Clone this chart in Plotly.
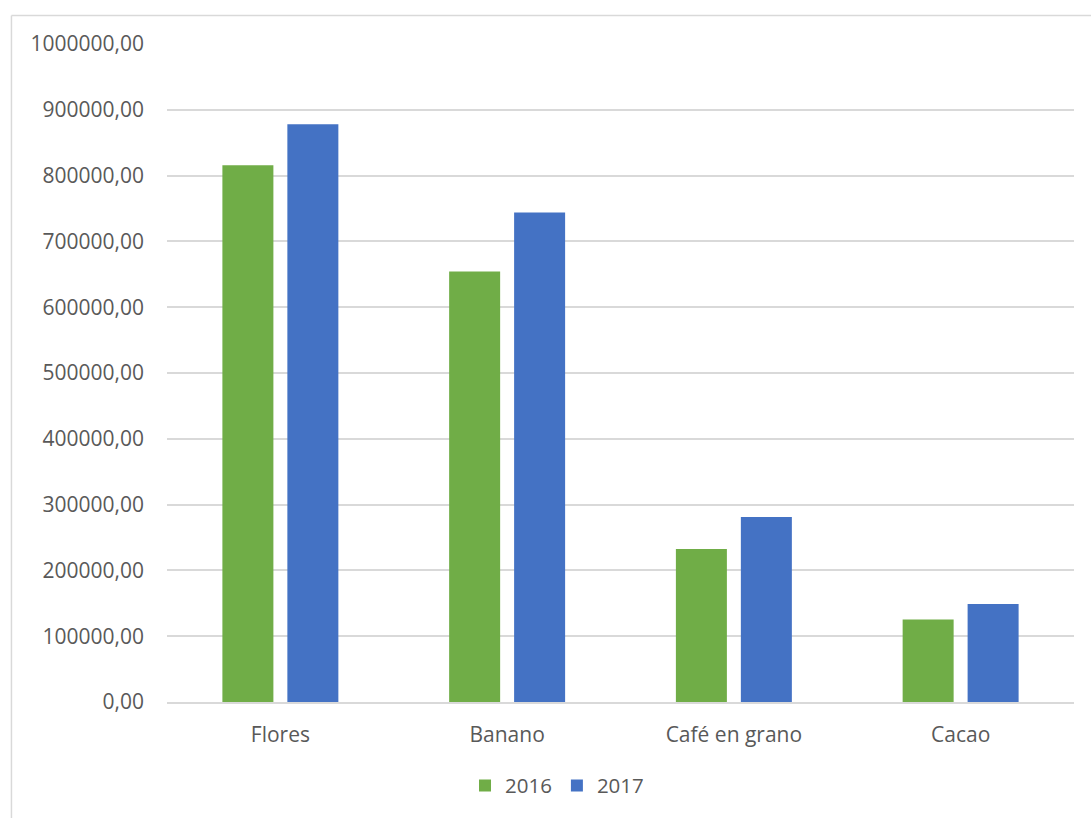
import plotly.graph_objects as go

categories = ["Flores", "Banano", "Café en grano", "Cacao"]
values_2016 = [815800, 654100, 232700, 125300]
values_2017 = [877900, 743900, 281200, 148900]
tick_vals = [0, 100000, 200000, 300000, 400000, 500000, 600000, 700000, 800000, 900000, 1000000]
tick_text = ["0,00", "100000,00", "200000,00", "300000,00", "400000,00", "500000,00",
             "600000,00", "700000,00", "800000,00", "900000,00", "1000000,00"]

FONT = "Open Sans"
TXT = "#595959"
GRID = "#d9d9d9"

fig = go.Figure()
fig.add_trace(go.Bar(name="2016", x=categories, y=values_2016, marker_color="#70AD47",
                     marker_line_width=0))
fig.add_trace(go.Bar(name="2017", x=categories, y=values_2017, marker_color="#4472C4",
                     marker_line_width=0))

fig.update_layout(
    width=1091, height=818,
    margin=dict(l=167, r=17, t=44, b=113),
    paper_bgcolor="white", plot_bgcolor="white",
    barmode="group", bargap=0.427, bargroupgap=0.215,
    font=dict(family=FONT, size=21, color=TXT),
    showlegend=True,
    legend=dict(orientation="h", x=0.43, xanchor="center", y=-0.127, yanchor="middle",
                font=dict(family=FONT, size=20.5, color=TXT), itemwidth=30,
                traceorder="normal"),
    xaxis=dict(showgrid=False, showline=True, linecolor=GRID, linewidth=1.5,
               ticks="", tickfont=dict(size=21, color=TXT), ticklabelstandoff=13),
    yaxis=dict(range=[0, 1000000], tickvals=tick_vals, ticktext=tick_text,
               showgrid=True, gridcolor=GRID, gridwidth=1.5, zeroline=False,
               showline=False, ticks="", tickfont=dict(size=21, color=TXT),
               ticklabelstandoff=22),
    shapes=[
        dict(type="line", xref="paper", yref="paper", x0=-0.1715, x1=1.1, y0=1.0434, y1=1.0434,
             line=dict(color=GRID, width=1.5)),
        dict(type="line", xref="paper", yref="paper", x0=-0.1715, x1=-0.1715, y0=1.0434, y1=-0.3,
             line=dict(color=GRID, width=1.5)),
    ],
)

fig.write_html("out.html")
